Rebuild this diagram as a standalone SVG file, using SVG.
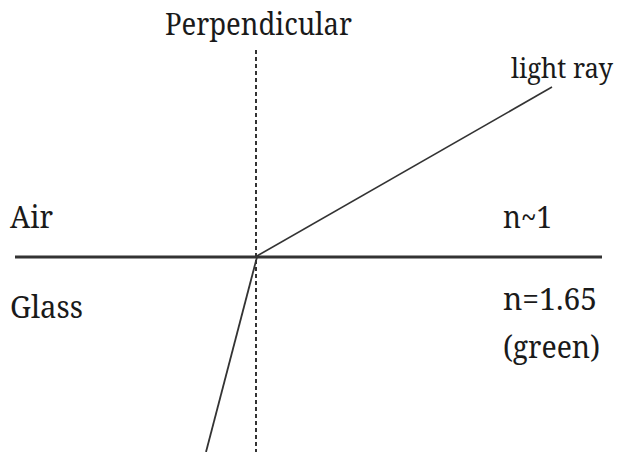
<svg xmlns="http://www.w3.org/2000/svg" width="625" height="452" viewBox="0 0 625 452">
<style>
text{font-family:"Noto Serif","DejaVu Serif",serif;font-size:30px;fill:#1a1a1a}
.ln{stroke:#333;fill:none}
</style>
<rect width="625" height="452" fill="#fff"/>
<g id="connectors">
<line class="ln" x1="256" y1="50" x2="256" y2="452" stroke-width="2" stroke-dasharray="4,3"/>
<line class="ln" x1="15" y1="257" x2="602" y2="257" stroke-width="3"/>
<line class="ln" x1="257" y1="256" x2="552" y2="87" stroke-width="1.6"/>
<line class="ln" x1="257" y1="257" x2="206" y2="452" stroke-width="1.8"/>
</g>
<g id="perpendicular"><text x="165" y="35" textLength="187" lengthAdjust="spacingAndGlyphs">Perpendicular</text></g>
<g id="light-ray"><text x="511" y="78" style="font-size:27px" textLength="102" lengthAdjust="spacingAndGlyphs">light ray</text></g>
<g id="air"><text x="10" y="228" textLength="43" lengthAdjust="spacingAndGlyphs">Air</text><text x="503" y="228" textLength="49" lengthAdjust="spacingAndGlyphs">n~1</text></g>
<g id="glass"><text x="10" y="318" textLength="73" lengthAdjust="spacingAndGlyphs">Glass</text><text x="503" y="310" textLength="94" lengthAdjust="spacingAndGlyphs">n=1.65</text><text x="503" y="358" textLength="97" lengthAdjust="spacingAndGlyphs">(green)</text></g>
</svg>
